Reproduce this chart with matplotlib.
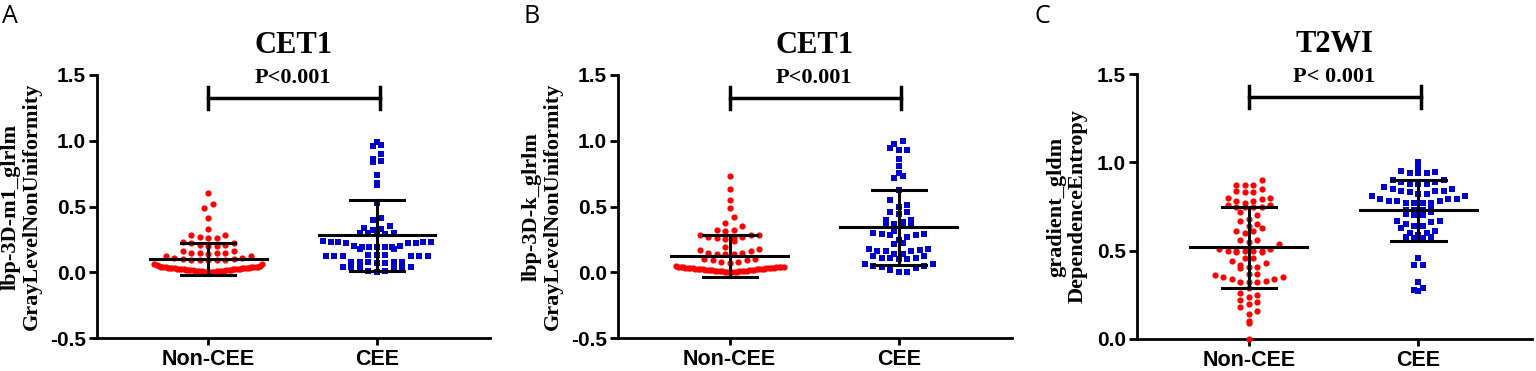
import matplotlib.pyplot as plt
import numpy as np

plt.rcParams['font.family'] = ['Liberation Sans', 'DejaVu Sans']

groups = ["Non-CEE", "CEE"]
titles = ["CET1", "CET1", "T2WI"]
pvals = ["P<0.001", "P<0.001", "P< 0.001"]
panel_tags = ["A", "B", "C"]
ylabels = ["lbp-3D-m1_glrlm\nGrayLevelNonUniformity",
           "lbp-3D-k_glrlm\nGrayLevelNonUniformity",
           "gradient_gldm\nDependenceEntropy"]

# A: lbp-3D-m1_glrlm GrayLevelNonUniformity (CET1)
a_non = [0.60, 0.52, 0.49, 0.41, 0.33,
         0.28, 0.27, 0.26, 0.26, 0.28,
         0.22, 0.21, 0.20, 0.20, 0.21, 0.22, 0.23,
         0.16, 0.15, 0.15, 0.14, 0.15, 0.15, 0.16,
         0.12, 0.11, 0.10, 0.09, 0.09, 0.09, 0.09, 0.09, 0.10, 0.11, 0.12,
         0.06, 0.06, 0.055, 0.05,
         0.000, 0.001, 0.002, 0.003, 0.004, 0.005, 0.006, 0.007, 0.008, 0.009,
         0.010, 0.011, 0.012, 0.013, 0.014, 0.015, 0.016, 0.017, 0.018, 0.019,
         0.020, 0.021, 0.022, 0.023, 0.024, 0.025, 0.026, 0.027, 0.028, 0.029,
         0.030, 0.031, 0.032, 0.033, 0.034, 0.035, 0.036, 0.037, 0.038, 0.039,
         0.040, 0.041, 0.042, 0.043, 0.044]
a_cee = [0.97, 0.96, 0.99, 0.90, 0.86, 0.835, 0.847, 0.74, 0.667, 0.68, 0.527,
         0.395, 0.41,
         0.34, 0.33, 0.35, 0.32,
         0.30, 0.29, 0.30, 0.29, 0.30,
         0.23, 0.23, 0.22, 0.23, 0.24, 0.22, 0.23, 0.22,
         0.19, 0.19, 0.18, 0.20, 0.19, 0.18, 0.19, 0.20, 0.19,
         0.12, 0.13, 0.12, 0.12, 0.13, 0.12, 0.13, 0.12, 0.12,
         0.08, 0.075, 0.07, 0.08, 0.075, 0.07, 0.08,
         0.04, 0.035, 0.04, 0.03, 0.04, 0.035,
         0.01, 0.005, 0.01]

# B: lbp-3D-k_glrlm GrayLevelNonUniformity (CET1)
b_non = [0.73, 0.633, 0.55, 0.49, 0.42,
         0.375, 0.355,
         0.32, 0.31, 0.32,
         0.28, 0.27, 0.26, 0.25, 0.24, 0.26, 0.27, 0.28, 0.28,
         0.19, 0.17, 0.15, 0.14, 0.14, 0.14, 0.15, 0.16, 0.18,
         0.10, 0.09, 0.08, 0.07, 0.08, 0.09, 0.10,
         0.000, 0.001, 0.002, 0.003, 0.004, 0.005, 0.006, 0.007, 0.008, 0.009,
         0.010, 0.011, 0.012, 0.013, 0.014, 0.015, 0.016, 0.017, 0.018, 0.019,
         0.020, 0.021, 0.022, 0.023, 0.024, 0.025, 0.026, 0.027, 0.028, 0.029,
         0.030, 0.031, 0.032, 0.033, 0.034, 0.035, 0.036, 0.037, 0.038, 0.039,
         0.040, 0.041, 0.042, 0.043, 0.044]
b_cee = [0.975, 0.995, 0.93, 0.93, 0.945, 0.86, 0.81, 0.73, 0.72, 0.755, 0.627,
         0.546, 0.513, 0.50,
         0.455, 0.445, 0.455,
         0.40, 0.37, 0.35, 0.35, 0.36, 0.38, 0.40,
         0.31, 0.29, 0.28, 0.28, 0.27, 0.29, 0.30,
         0.247, 0.224, 0.217,
         0.18, 0.17, 0.16, 0.14, 0.14, 0.16, 0.16, 0.18,
         0.12, 0.11, 0.10, 0.10, 0.11, 0.11, 0.12,
         0.06, 0.05, 0.04, 0.02, 0.00, 0.00, 0.03, 0.05, 0.06]

# C: gradient_gldm DependenceEntropy (T2WI)
c_non = [0.90, 0.87, 0.85, 0.83, 0.84, 0.87, 0.87,
         0.83, 0.80, 0.79, 0.78, 0.80, 0.78,
         0.76, 0.75, 0.75, 0.75, 0.76, 0.75, 0.77,
         0.72, 0.70, 0.68,
         0.67, 0.64, 0.65, 0.63,
         0.61, 0.61, 0.60,
         0.56, 0.54, 0.55, 0.56,
         0.50, 0.49, 0.50, 0.51, 0.50, 0.49, 0.50, 0.51, 0.50,
         0.46, 0.43, 0.41, 0.46, 0.42, 0.44,
         0.40, 0.37, 0.35, 0.41, 0.36, 0.37,
         0.35, 0.32, 0.32, 0.32, 0.34, 0.33, 0.34,
         0.29,
         0.25, 0.22, 0.20, 0.18, 0.26, 0.21, 0.24,
         0.16, 0.14,
         0.10, 0.09,
         0.0]
c_cee = [1.00,
         0.95, 0.97, 0.94, 0.94, 0.94, 0.945,
         0.89, 0.88, 0.90, 0.90, 0.89, 0.88, 0.88,
         0.84, 0.84, 0.85, 0.85, 0.86, 0.84,
         0.82, 0.83, 0.81, 0.81, 0.82, 0.79,
         0.78, 0.77, 0.77, 0.79, 0.77, 0.79, 0.77, 0.78, 0.78,
         0.73, 0.72, 0.70, 0.74, 0.73, 0.70, 0.71, 0.73,
         0.67, 0.65, 0.64, 0.66, 0.63, 0.64, 0.67,
         0.60, 0.58, 0.57, 0.57, 0.58, 0.59, 0.60, 0.61,
         0.42, 0.42, 0.46,
         0.29, 0.27, 0.28, 0.32]

data = [(a_non, a_cee), (b_non, b_cee), (c_non, c_cee)]
ylims = [(-0.5, 1.5), (-0.5, 1.5), (0.0, 1.5)]
yticks = [[-0.5, 0.0, 0.5, 1.0, 1.5], [-0.5, 0.0, 0.5, 1.0, 1.5], [0.0, 0.5, 1.0, 1.5]]

# axes boxes in pixels (left, top, right, bottom) on a 1536x371 canvas
W, H = 1536, 371
boxes = [(97, 75, 490, 338), (618, 75, 1012, 338), (1137, 74, 1532, 339)]
tag_x = [2, 523, 1034]
label_x = [-0.14, -0.14, -0.124]

RED = '#ff0000'
BLUE = '#0000cc'


# rows of dots like a GraphPad scatter-dot plot
def dot_offsets(vals, bin_h, step, max_half):
    vals = np.asarray(vals, dtype=float)
    offs = np.zeros(len(vals))
    bins = np.floor(vals / bin_h + 1e-9).astype(int)
    for b in np.unique(bins):
        idx = np.where(bins == b)[0]
        idx = idx[np.argsort(vals[idx], kind='stable')]
        n = len(idx)
        sp = step if n < 2 else min(step, 2 * max_half / (n - 1))
        for k, i in enumerate(idx):
            if n % 2 == 1:
                m = (k + 1) // 2
            else:
                m = k // 2 + 0.5
            offs[i] = m * sp * (1 if k % 2 else -1)
    return offs


fig = plt.figure(figsize=(15.36, 3.71), dpi=100)

for p in range(3):
    l, t, r, b = boxes[p]
    ax = fig.add_axes([l / W, 1 - b / H, (r - l) / W, (b - t) / H])
    x0, x1 = -0.66, 1.67
    y0, y1 = ylims[p]
    ax.set_xlim(x0, x1)
    ax.set_ylim(y0, y1)
    px_x = (r - l) / (x1 - x0)
    px_y = (b - t) / (y1 - y0)

    for g, vals in enumerate(data[p]):
        vals = np.asarray(vals)
        offs = dot_offsets(vals, 8.0 / px_y, 8.5 / px_x, 54.0 / px_x)
        if g == 0:
            ax.scatter(g + offs, vals, s=20, marker='o', color=RED,
                       linewidths=0, zorder=3, clip_on=False)
        else:
            ax.scatter(g + offs, vals, s=17, marker='s', color=BLUE,
                       linewidths=0, zorder=3, clip_on=False)
        m = vals.mean()
        sd = vals.std(ddof=1)
        ax.plot([g - 0.345, g + 0.345], [m, m], color='black', lw=2.2, zorder=4)
        ax.plot([g - 0.16, g + 0.16], [m + sd, m + sd], color='black', lw=2.2, zorder=4)
        ax.plot([g - 0.16, g + 0.16], [m - sd, m - sd], color='black', lw=2.2, zorder=4)
        ax.plot([g, g], [m - sd, m + sd], color='black', lw=2.2, zorder=4)

    # significance bracket
    tr = ax.get_xaxis_transform()
    ax.plot([0, 1.015], [0.912, 0.912], color='black', lw=2.5, transform=tr, clip_on=False)
    ax.plot([0, 0], [0.87, 0.955], color='black', lw=2.5, transform=tr, clip_on=False)
    ax.plot([1.015, 1.015], [0.87, 0.955], color='black', lw=2.5, transform=tr, clip_on=False)
    ax.text(0.5, 0.97, pvals[p], transform=tr, ha='center', va='baseline',
            fontsize=16, fontweight='bold', family='Liberation Serif')

    ax.set_title(titles[p], fontsize=22, fontweight='bold', family='Liberation Serif', pad=16)

    ax.set_xticks([0, 1])
    ax.set_xticklabels(groups, fontsize=15.5, fontweight='bold')
    ax.set_yticks(yticks[p])
    ax.set_yticklabels(['%.1f' % v for v in yticks[p]], fontsize=15, fontweight='bold')
    ax.tick_params(axis='y', direction='out', length=6, width=2, pad=2)
    ax.tick_params(axis='x', direction='out', length=5, width=2, pad=3)
    for s in ['top', 'right']:
        ax.spines[s].set_visible(False)
    for s in ['left', 'bottom']:
        ax.spines[s].set_linewidth(2)

    ax.set_ylabel(ylabels[p], fontsize=16, fontweight='bold', family='Liberation Serif',
                  linespacing=1.1)
    ax.yaxis.set_label_coords(label_x[p], 0.5)

    fig.text(tag_x[p] / W, 1 - 23 / H, panel_tags[p], fontsize=18, family='Open Sans')

fig.savefig('out.png', dpi=100)
